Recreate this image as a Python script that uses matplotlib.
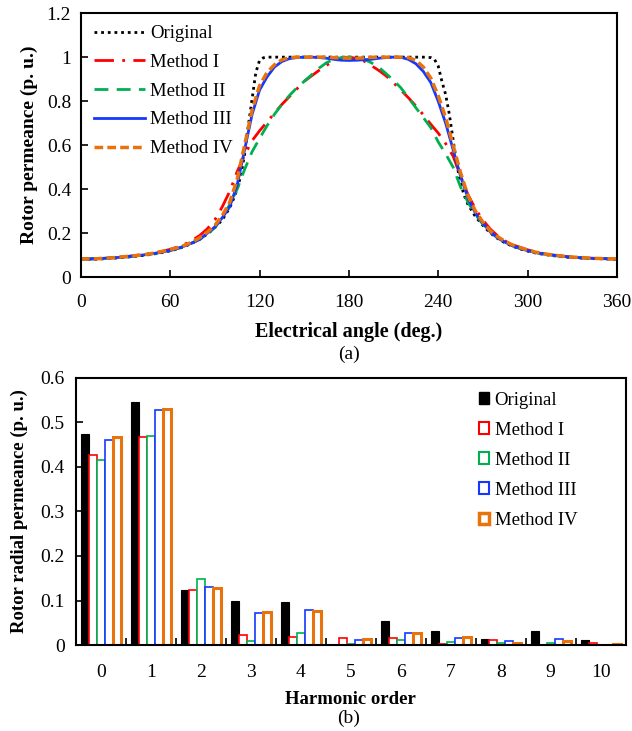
import matplotlib
matplotlib.use("Agg")
import matplotlib.pyplot as plt
from matplotlib.ticker import FuncFormatter, MultipleLocator, FixedLocator
from matplotlib.patches import Patch

plt.rcParams['font.family'] = ['Liberation Serif', 'DejaVu Serif']

# ---------------- (a) rotor permeance curves ----------------
angles = list(range(0, 365, 5))

orig_angles = ([a for a in range(0, 100, 5)] +
               [100, 102.5, 105, 107.5, 110, 112.5, 115, 117.5, 120, 122.5, 125] +
               [a for a in range(130, 235, 5)] +
               [235, 237.5, 240, 242.5, 245, 247.5, 250, 252.5, 255, 257.5, 260] +
               [a for a in range(265, 365, 5)])
original = ([0.080, 0.080, 0.081, 0.083, 0.085, 0.087, 0.090, 0.093, 0.097, 0.101,
             0.106, 0.112, 0.119, 0.128, 0.140, 0.155, 0.173, 0.196, 0.225, 0.260] +
            [0.315, 0.355, 0.400, 0.465, 0.560, 0.690, 0.810, 0.930, 0.985, 0.997, 1.000] +
            [1.000] * 21 +
            [0.998, 0.990, 0.960, 0.890, 0.830, 0.740, 0.625, 0.510, 0.430, 0.370, 0.330] +
            [0.275, 0.235, 0.200, 0.175, 0.155, 0.140, 0.128, 0.118, 0.110, 0.104,
             0.099, 0.095, 0.091, 0.089, 0.087, 0.085, 0.084, 0.083, 0.082, 0.080])

method1 = [0.082, 0.083, 0.084, 0.086, 0.088, 0.090, 0.093, 0.097, 0.101, 0.106,
           0.111, 0.118, 0.126, 0.137, 0.150, 0.168, 0.190, 0.220, 0.260, 0.320,
           0.390, 0.480, 0.555, 0.620, 0.665, 0.705, 0.745, 0.785, 0.820, 0.855,
           0.890, 0.915, 0.940, 0.963, 0.983, 0.996, 1.000, 0.995, 0.983, 0.962,
           0.940, 0.915, 0.883, 0.850, 0.815, 0.778, 0.738, 0.695, 0.655, 0.607,
           0.550, 0.460, 0.375, 0.310, 0.260, 0.218, 0.187, 0.164, 0.147, 0.135,
           0.124, 0.115, 0.108, 0.102, 0.098, 0.094, 0.091, 0.088, 0.086, 0.085,
           0.084, 0.083, 0.082]

method2 = [0.082, 0.082, 0.083, 0.085, 0.087, 0.089, 0.092, 0.095, 0.099, 0.103,
           0.108, 0.114, 0.121, 0.130, 0.142, 0.156, 0.172, 0.195, 0.225, 0.270,
           0.330, 0.400, 0.490, 0.570, 0.630, 0.688, 0.740, 0.785, 0.825, 0.860,
           0.890, 0.920, 0.950, 0.975, 0.990, 0.998, 1.000, 0.998, 0.990, 0.975,
           0.955, 0.925, 0.895, 0.860, 0.815, 0.770, 0.725, 0.680, 0.615, 0.560,
           0.500, 0.410, 0.340, 0.285, 0.240, 0.205, 0.178, 0.158, 0.142, 0.130,
           0.120, 0.112, 0.106, 0.101, 0.097, 0.093, 0.090, 0.088, 0.086, 0.085,
           0.084, 0.083, 0.082]

method3 = [0.082, 0.082, 0.083, 0.085, 0.087, 0.089, 0.092, 0.095, 0.099, 0.103,
           0.108, 0.114, 0.121, 0.130, 0.142, 0.156, 0.172, 0.200, 0.228, 0.270,
           0.320, 0.420, 0.580, 0.740, 0.850, 0.910, 0.955, 0.980, 0.993, 0.998,
           1.000, 1.000, 0.998, 0.995, 0.990, 0.986, 0.985, 0.986, 0.988, 0.990,
           0.995, 0.998, 1.000, 0.999, 0.990, 0.970, 0.935, 0.885, 0.800, 0.700,
           0.580, 0.460, 0.360, 0.290, 0.245, 0.205, 0.178, 0.158, 0.142, 0.130,
           0.120, 0.112, 0.106, 0.101, 0.097, 0.093, 0.090, 0.088, 0.086, 0.085,
           0.084, 0.083, 0.082]

method4 = [0.082, 0.082, 0.083, 0.085, 0.087, 0.090, 0.093, 0.096, 0.100, 0.104,
           0.110, 0.117, 0.125, 0.134, 0.145, 0.160, 0.180, 0.205, 0.235, 0.280,
           0.340, 0.445, 0.600, 0.760, 0.870, 0.930, 0.965, 0.988, 0.997, 1.000,
           1.000, 1.000, 1.000, 1.000, 0.998, 0.996, 0.995, 0.995, 0.997, 0.999,
           1.000, 1.000, 1.000, 1.000, 0.998, 0.985, 0.955, 0.905, 0.825, 0.725,
           0.600, 0.475, 0.370, 0.300, 0.250, 0.210, 0.183, 0.162, 0.146, 0.134,
           0.123, 0.114, 0.107, 0.102, 0.098, 0.094, 0.091, 0.089, 0.087, 0.085,
           0.084, 0.083, 0.082]

# ---------------- (b) harmonic spectrum ----------------
harmonics = list(range(11))
bar_orig = [0.473, 0.546, 0.123, 0.100, 0.096, 0.000, 0.054, 0.032, 0.014, 0.031, 0.0105]
bar_m1 = [0.426, 0.468, 0.124, 0.022, 0.019, 0.015, 0.016, 0.002, 0.0105, 0.001, 0.005]
bar_m2 = [0.415, 0.470, 0.148, 0.010, 0.028, 0.003, 0.011, 0.007, 0.005, 0.004, 0.001]
bar_m3 = [0.460, 0.527, 0.131, 0.072, 0.078, 0.012, 0.026, 0.015, 0.009, 0.013, 0.001]
bar_m4 = [0.467, 0.530, 0.127, 0.074, 0.077, 0.013, 0.028, 0.019, 0.005, 0.009, 0.002]

labels = ['Original', 'Method I', 'Method II', 'Method III', 'Method IV']
RED = '#FF0000'
GREEN = '#00B050'
BLUE = '#1438FF'
ORANGE = '#E8730C'

fmt = FuncFormatter(lambda v, p: ('%g' % round(v, 3)))

fig = plt.figure(figsize=(6.32, 7.31), dpi=100)

# ---- top ----
ax1 = fig.add_axes([0.128, 0.621, 0.848, 0.361])
ax1.plot(orig_angles, original, color='black', linestyle=(0, (1, 1.4)), lw=2.0, label=labels[0])
ax1.plot(angles, method1, color=RED, linestyle=(0, (7, 3, 1, 3)), lw=2.0, label=labels[1])
ax1.plot(angles, method2, color=GREEN, linestyle=(0, (5, 3)), lw=2.0, label=labels[2])
ax1.plot(angles, method3, color=BLUE, linestyle='-', lw=2.0, label=labels[3])
ax1.plot(angles, method4, color=ORANGE, linestyle=(0, (2.5, 1.2)), lw=2.5, label=labels[4])
ax1.set_xlim(0, 360)
ax1.set_ylim(0, 1.2)
ax1.xaxis.set_major_locator(MultipleLocator(60))
ax1.yaxis.set_major_locator(MultipleLocator(0.2))
ax1.yaxis.set_major_formatter(fmt)
ax1.tick_params(direction='in', length=5, width=1.2, labelsize=14)
ax1.tick_params(axis='x', pad=12)
ax1.tick_params(axis='y', pad=7)
for s in ax1.spines.values():
    s.set_linewidth(1.5)
ax1.set_xlabel('Electrical angle (deg.)', fontsize=14.5, fontweight='bold', labelpad=8)
ax1.set_ylabel('Rotor permeance (p. u.)', fontsize=14, fontweight='bold', labelpad=6)
ax1.legend(loc='upper left', frameon=False, fontsize=13.5, handlelength=2.7,
           handletextpad=0.3, labelspacing=0.62, borderaxespad=0.3,
           bbox_to_anchor=(0.0, 1.005))
fig.text(349 / 632, 1 - 354 / 731, '(a)', ha='center', va='center', fontsize=14)

# ---- bottom ----
ax2 = fig.add_axes([0.120, 0.1176, 0.870, 0.3654])
w = 0.16
x = harmonics
ax2.bar([i - 2 * w for i in x], bar_orig, width=w, color='black', edgecolor='black', lw=0.8, label=labels[0])
ax2.bar([i - w for i in x], bar_m1, width=w, facecolor='white', edgecolor=RED, lw=1.2, label=labels[1])
ax2.bar([i for i in x], bar_m2, width=w, facecolor='white', edgecolor=GREEN, lw=1.2, label=labels[2])
ax2.bar([i + w for i in x], bar_m3, width=w, facecolor='white', edgecolor=BLUE, lw=1.2, label=labels[3])
ax2.bar([i + 2 * w for i in x], bar_m4, width=w, facecolor='white', edgecolor=ORANGE, lw=2.2, label=labels[4])
ax2.set_xlim(-0.5, 10.5)
ax2.set_ylim(0, 0.6)
ax2.xaxis.set_major_locator(FixedLocator(harmonics))
ax2.xaxis.set_minor_locator(FixedLocator([i + 0.5 for i in range(10)]))
ax2.yaxis.set_major_locator(MultipleLocator(0.1))
ax2.yaxis.set_major_formatter(fmt)
ax2.tick_params(axis='x', which='major', length=0, labelsize=14, pad=14)
ax2.tick_params(axis='x', which='minor', direction='in', length=5, width=1.2)
ax2.tick_params(axis='y', direction='in', length=5, width=1.2, labelsize=14, pad=8)
for s in ax2.spines.values():
    s.set_linewidth(1.5)
ax2.set_xlabel('Harmonic order', fontsize=13.5, fontweight='bold', labelpad=7)
ax2.set_ylabel('Rotor radial permeance (p. u.)', fontsize=13.5, fontweight='bold', labelpad=9)
handles = [Patch(facecolor='black', edgecolor='black'),
           Patch(facecolor='white', edgecolor=RED, lw=1.5),
           Patch(facecolor='white', edgecolor=GREEN, lw=1.5),
           Patch(facecolor='white', edgecolor=BLUE, lw=1.5),
           Patch(facecolor='white', edgecolor=ORANGE, lw=2.5)]
ax2.legend(handles, labels, loc='upper left', bbox_to_anchor=(0.702, 1.012), frameon=False,
           fontsize=13.5, handlelength=0.55, handleheight=0.6, handletextpad=0.3,
           labelspacing=0.7)
fig.text(349 / 632, 1 - 718 / 731, '(b)', ha='center', va='center', fontsize=14)

fig.savefig('out.png', dpi=100)
